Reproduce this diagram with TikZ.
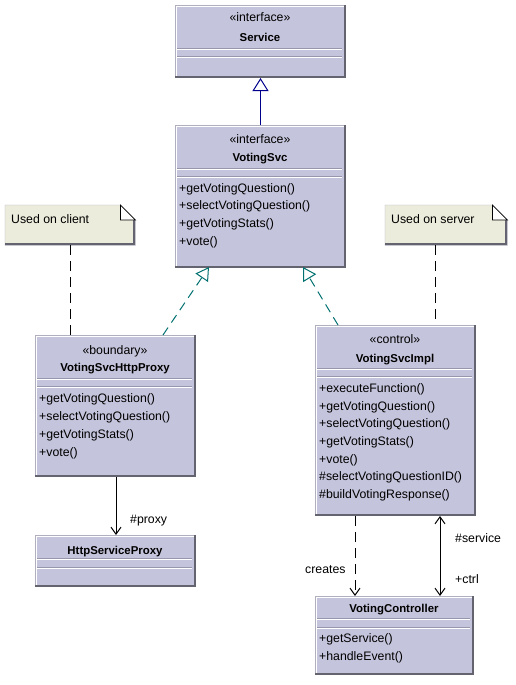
\documentclass[tikz,border=0pt]{standalone}
\usepackage{fontspec}
\setmainfont{Liberation Sans}
\usetikzlibrary{arrows.meta,calc}
\definecolor{boxfill}{RGB}{196,196,220}
\definecolor{notefill}{RGB}{236,236,220}
\definecolor{shadowc}{RGB}{100,100,112}
\definecolor{edgec}{RGB}{175,175,190}
\definecolor{sepc}{RGB}{150,150,172}
\definecolor{navyc}{RGB}{0,0,140}
\definecolor{tealc}{RGB}{0,112,112}
\newcommand\umlclass[7]{%
  \node[clsb, minimum width=#4pt, minimum height=#5pt] (#1) at (#2,#3) {};
  \draw[white, line width=1pt] ($(#1.south west)+(1.5,-2)$) |- ($(#1.north east)+(-2,1.5)$);
  \draw[shadowc, line width=2pt] ($(#1.north east)+(-1,0)$) |- ($(#1.south west)+(0,-1)$);
  \draw[sepc] ({#2+2},#6) -- ({#2+#4-3},#6);
  \draw[white] ({#2+2},{#6+1}) -- ({#2+#4-3},{#6+1});
  \draw[sepc] ({#2+2},#7) -- ({#2+#4-3},#7);
  \draw[white] ({#2+2},{#7+1}) -- ({#2+#4-3},{#7+1});
}
\newcommand\umlnote[5]{%
  \node[inner sep=0pt, anchor=north west, minimum width=#4pt, minimum height=#5pt] (#1) at (#2,#3) {};
  \filldraw[fill=notefill, draw=edgec] (#1.north west) -- ($(#1.north east)+(-15,0)$) -- ($(#1.north east)+(0,15)$) -- (#1.south east) -- (#1.south west) -- cycle;
  \draw[shadowc, line width=2pt] ($(#1.north east)+(-1,15)$) |- ($(#1.south west)+(0,-1)$);
  \filldraw[fill=white, draw=black, line width=0.8pt] ($(#1.north east)+(-15,0)$) -- ($(#1.north east)+(0,15)$) -- ($(#1.north east)+(-15,15)$) -- cycle;
}
\begin{document}
\begin{tikzpicture}[x=1pt,y=-1pt,font=\fontsize{12.3}{14}\selectfont,
  clsb/.style={draw=edgec, fill=boxfill, line width=1pt, anchor=north west, inner sep=0pt},
  mem/.style={anchor=west, inner sep=0pt, text height=9pt, text depth=3pt, yshift=-1.5pt},
  ster/.style={anchor=center, inner sep=0pt, text height=9pt, text depth=3pt, yshift=-1pt},
  ttl/.style={anchor=center, inner sep=0pt, text height=9pt, text depth=3pt, yshift=-1.5pt, font=\fontsize{11.4}{14}\selectfont\bfseries},
  lbl/.style={anchor=west, inner sep=0pt, text height=9pt, text depth=3pt, yshift=-1.5pt},
  gen/.style={draw=navyc, line width=1pt, -{Triangle[length=13pt,width=16pt,fill=white]}},
  real/.style={draw=tealc, line width=1pt, dash pattern=on 9pt off 6pt, -{Triangle[length=13pt,width=15pt,fill=white]}},
  anc/.style={draw=black, line width=1pt, dash pattern=on 10pt off 6pt},
  assoc/.style={draw=black, line width=1pt, -{Straight Barb[length=7pt,width=10pt]}},
  biassoc/.style={draw=black, line width=1pt, {Straight Barb[length=7pt,width=10pt]}-{Straight Barb[length=7pt,width=10pt]}}
]
\useasboundingbox (0,0) rectangle (515,685);
\fill[white] (0,0) rectangle (515,685);

% classes
\umlclass{svc}{175}{5}{170}{72}{48}{56}
\node[ster] (svcst) at (260,18) {«interface»};
\node[ttl] (svcnm) at (260,37) {Service};

\umlclass{vsvc}{175}{125}{170}{142}{168}{176}
\node[ster] (vsvcst) at (260,139) {«interface»};
\node[ttl] (vsvcnm) at (260,157) {VotingSvc};
\node[mem] (vm1) at (179,188) {+getVotingQuestion()};
\node[mem] (vm2) at (179,205) {+selectVotingQuestion()};
\node[mem] (vm3) at (179,223) {+getVotingStats()};
\node[mem] (vm4) at (179,241) {+vote()};

\umlclass{hp}{35}{335}{160}{141}{378}{386}
\node[ster] (hpst) at (115,350) {«boundary»};
\node[ttl] (hpnm) at (115,367) {VotingSvcHttpProxy};
\node[mem] (hm1) at (39,398) {+getVotingQuestion()};
\node[mem] (hm2) at (39,416) {+selectVotingQuestion()};
\node[mem] (hm3) at (39,434) {+getVotingStats()};
\node[mem] (hm4) at (39,452) {+vote()};

\umlclass{hsp}{35}{535}{160}{51}{558}{567}
\node[ttl] (hspnm) at (115,550) {HttpServiceProxy};

\umlclass{impl}{315}{325}{160}{190}{368}{376}
\node[ster] (implst) at (395,339) {«control»};
\node[ttl] (implnm) at (395,358) {VotingSvcImpl};
\node[mem] (im1) at (319,388) {+executeFunction()};
\node[mem] (im2) at (319,406) {+getVotingQuestion()};
\node[mem] (im3) at (319,423) {+selectVotingQuestion()};
\node[mem] (im4) at (319,441) {+getVotingStats()};
\node[mem] (im5) at (319,459) {+vote()};
\node[mem] (im6) at (319,476) {\#selectVotingQuestionID()};
\node[mem] (im7) at (319,494) {\#buildVotingResponse()};

\umlclass{ctrl}{315}{596}{158}{78}{618}{627}
\node[ttl] (ctrlnm) at (394,608) {VotingController};
\node[mem] (cm1) at (319,638) {+getService()};
\node[mem] (cm2) at (319,656) {+handleEvent()};

% notes
\umlnote{cn}{5}{205}{130}{40}
\node[lbl] (cntx) at (11,219) {Used on client};
\umlnote{sn}{385}{205}{122}{40}
\node[lbl] (sntx) at (391,219) {Used on server};

% connectors
\draw[gen] (vsvc.north) -- (svc.south);
\draw[real] ($(hp.north west)+(128,0)$) -- ($(vsvc.south west)+(34,-1)$);
\draw[real] ($(impl.north west)+(23,0)$) -- ($(vsvc.south west)+(128,-1)$);
\draw[anc] ($(cn.south west)+(65,0)$) -- ($(hp.north west)+(35,0)$);
\draw[anc] ($(sn.south west)+(50,0)$) -- ($(impl.north west)+(120,0)$);
\draw[assoc] ($(hp.south west)+(81,0)$) -- ($(hsp.north west)+(81,0)$);
\draw[assoc, dash pattern=on 10pt off 6pt] ($(impl.south west)+(40,0)$) -- ($(ctrl.north west)+(40,0)$);
\draw[biassoc] ($(impl.south west)+(125,0)$) -- ($(ctrl.north west)+(125,0)$);

% labels
\node[lbl] (lproxy) at (130,519) {\#proxy};
\node[lbl] (lcreates) at (305,569) {creates};
\node[lbl] (lservice) at (455,538) {\#service};
\node[lbl] (lctrl) at (455,579) {+ctrl};
\end{tikzpicture}
\end{document}
